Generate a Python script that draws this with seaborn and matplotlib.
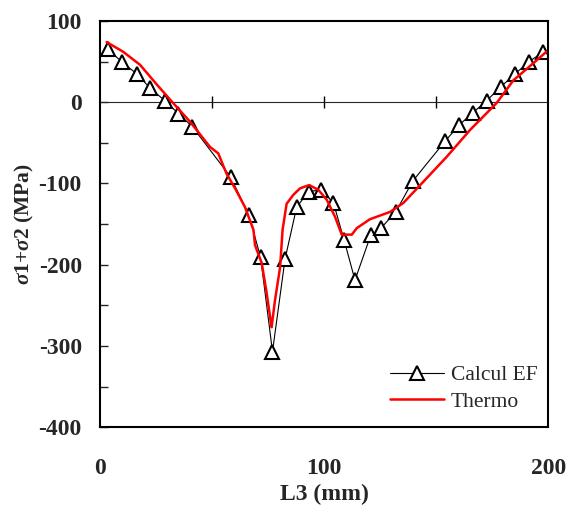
import numpy as np
import pandas as pd
import matplotlib
matplotlib.use("Agg")
import matplotlib.pyplot as plt
import seaborn as sns

# Calcul EF (triangles)
ef_x = [3.6, 10.0, 16.4, 22.5, 28.9, 35.0, 41.2, 58.3, 66.5, 71.7, 77.0, 82.6,
        87.8, 93.1, 98.7, 104.2, 109.0, 113.8, 120.8, 125.4, 132.0, 139.6,
        154.0, 160.3, 166.4, 172.6, 178.9, 185.3, 191.5, 197.9]
ef_y = [65, 49, 35, 17, 2, -14, -30, -92, -139, -191, -307, -193,
        -129, -110, -108, -124, -170, -219, -164, -155, -135, -97,
        -48, -28, -13, 2, 19, 35, 50, 62]

# Thermo (red line)
th_x = [3.0, 10.4, 17.9, 25.3, 32.0, 40.2, 49.1, 52.8, 56.5, 60.3, 64.7,
        68.5, 69.2, 72.2, 74.4, 76.0, 76.6, 78.1, 80.4, 81.5, 83.3, 86.3,
        89.3, 93.4, 97.5, 101.2, 104.9, 107.9, 112.4, 114.6, 120.5, 129.5,
        135.4, 142.9, 154.8, 165.2, 177.0, 184.5, 193.4, 200.0]
th_y = [74, 62, 46, 22, 1, -24, -55, -63, -88, -106, -129,
        -157, -176, -198, -235, -266, -277, -244, -203, -157, -125, -114,
        -106, -102, -108, -120, -141, -163, -163, -155, -144, -135,
        -124, -102, -67, -34, -1, 27, 48, 64]

ef = pd.DataFrame({"x": ef_x, "y": ef_y})
th = pd.DataFrame({"x": th_x, "y": th_y})

sns.set_style("white")
plt.rcParams["font.family"] = ["Liberation Serif", "DejaVu Serif"]
plt.rcParams["axes.unicode_minus"] = False
plt.rcParams["mathtext.fontset"] = "custom"
plt.rcParams["mathtext.it"] = "Liberation Serif:italic:bold"
plt.rcParams["mathtext.rm"] = "Liberation Serif:bold"

fig = plt.figure(figsize=(5.71, 5.11), dpi=100)
ax = fig.add_axes([0.175, 0.164, 0.785, 0.795])

sns.lineplot(data=ef, x="x", y="y", ax=ax, color="black", lw=0.8,
             marker="^", markersize=10.5, markerfacecolor="white",
             markeredgecolor="black", markeredgewidth=1.5,
             label="Calcul EF", sort=False)
sns.lineplot(data=th, x="x", y="y", ax=ax, color="#ff0000", lw=1.8,
             label="Thermo", sort=False)

ax.set_xlim(0, 200)
ax.set_ylim(-400, 100)
ax.set_xticks([0, 100, 200])
ax.set_yticks([-400, -300, -200, -100, 0, 100])
ax.set_yticks(np.arange(-350, 100, 100), minor=True)
ax.tick_params(axis="x", length=0, pad=22, labelsize=17)
ax.tick_params(axis="y", which="both", direction="in", length=6, width=1,
               pad=13, labelsize=17, left=True)
for lab in ax.get_xticklabels() + ax.get_yticklabels():
    lab.set_fontweight("bold")

for s in ax.spines.values():
    s.set_color("black")
    s.set_linewidth(1.5)

# zero line with crossing ticks
zx = ax.secondary_xaxis(0.8)
zx.set_xticks([50, 100, 150])
zx.set_xticklabels([])
zx.tick_params(direction="inout", length=9, width=1, color="black")
zx.spines["bottom"].set_linewidth(1.0)
zx.spines["bottom"].set_color("black")

ax.set_xlabel("L3 (mm)", fontsize=17, fontweight="bold", labelpad=4)
ax.set_ylabel(r"$\mathit{\sigma}$1+$\mathit{\sigma}$2 (MPa)", fontsize=15.5,
              fontweight="bold", labelpad=2)

leg = ax.legend(loc="lower right", frameon=False, fontsize=15.5,
                handlelength=2.5, handletextpad=0.35, labelspacing=0.3,
                bbox_to_anchor=(1.02, -0.01))

fig.savefig("out.png", dpi=100)
